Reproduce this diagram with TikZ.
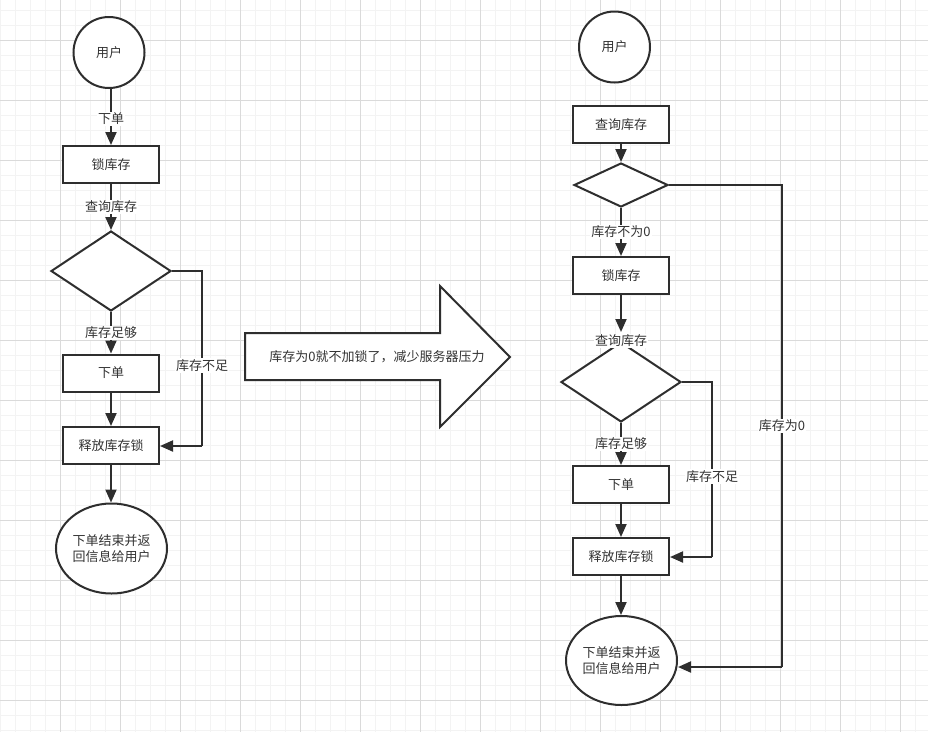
\documentclass[tikz,border=0pt]{standalone}
\usepackage{fontspec}
\setmainfont{Noto Sans CJK SC}
\usetikzlibrary{arrows.meta,shapes.geometric}
\definecolor{ink}{HTML}{2E2E2E}
\definecolor{txt}{HTML}{333333}
\definecolor{gminor}{HTML}{F3F3F3}
\definecolor{gmajor}{HTML}{DADADA}
\tikzset{
  base/.style={draw=ink, line width=2pt, fill=white, text=txt, font=\fontsize{13}{15.5}\selectfont, inner sep=0pt},
  stepbox/.style={base, rectangle, minimum width=96pt, minimum height=37pt},
  startnode/.style={base, circle, minimum size=71pt},
  endnode/.style={base, ellipse, minimum width=111pt, minimum height=90pt, align=center},
  decision/.style={base, diamond, minimum width=120pt, minimum height=80pt},
  conn/.style={draw=ink, line width=2pt, -{Triangle[length=13pt,width=11pt]}},
  plain/.style={draw=ink, line width=2pt},
  elabel/.style={fill=white, text=txt, font=\fontsize{13}{15.5}\selectfont, inner sep=1pt}
}
\begin{document}
\begin{tikzpicture}[x=1pt,y=-1pt]
\useasboundingbox (0,0) rectangle (928,732);
\fill[white] (0,0) rectangle (928,732);
% grid
\foreach \x in {0,15,...,928} {\draw[gminor, line width=0.8pt] (\x,0) -- (\x,732);}
\foreach \y in {10,25,...,732} {\draw[gminor, line width=0.8pt] (0,\y) -- (928,\y);}
\foreach \x in {60,120,...,900} {\draw[gmajor, line width=0.8pt] (\x,0) -- (\x,732);}
\foreach \y in {40,100,...,732} {\draw[gmajor, line width=0.8pt] (0,\y) -- (928,\y);}

% ---------- left flow ----------
\node[startnode] (u1) at (109,52.5) {用户};
\node[stepbox] (lock1) at (111,164.5) {锁库存};
\node[decision] (d1) at (111,271) {};
\node[stepbox] (order1) at (111,373) {下单};
\node[stepbox] (rel1) at (111,445.5) {释放库存锁};
\node[endnode] (end1) at (111.5,548.5) {下单结束并返\\回信息给用户};
\coordinate (c1a) at (202,271);
\coordinate (c1b) at (202,446);

\draw[conn] (u1.south -| lock1) -- node[elabel, pos=0.53] {下单} (lock1.north);
\draw[conn] (lock1.south) -- node[elabel] {查询库存} (d1.north);
\draw[conn] (d1.south) -- node[elabel] {库存足够} (order1.north);
\draw[conn] (order1.south) -- (rel1.north);
\draw[conn] (rel1.south) -- (rel1.south |- end1.north);
\draw[plain] (d1.east) -- (c1a) -- node[elabel, pos=0.54] {库存不足} (c1b);
\draw[conn] (c1b) -- (rel1.east |- c1b);

% ---------- big arrow ----------
\draw[base] (245,333) -- (440,333) -- (440,286) -- (510,357) -- (440,427) -- (440,380) -- (245,380) -- cycle;
\node[elabel, fill=none] (note) at (377,357) {库存为0就不加锁了，减少服务器压力};

% ---------- right flow ----------
\node[startnode] (u2) at (614.5,47) {用户};
\node[stepbox] (q2) at (621,124.5) {查询库存};
\node[decision, minimum width=94pt, minimum height=44pt] (d0) at (621,185) {};
\node[stepbox] (lock2) at (621,275.5) {锁库存};
\node[decision] (d2) at (621,382) {};
\node[stepbox] (order2) at (621,484.5) {下单};
\node[stepbox] (rel2) at (621,556.5) {释放库存锁};
\node[endnode, minimum height=89pt] (end2) at (621.5,660.5) {下单结束并返\\回信息给用户};
\coordinate (c0a) at (782,185);
\coordinate (c0b) at (782,667);
\coordinate (c2a) at (712,382);
\coordinate (c2b) at (712,557);

\draw[conn] (q2.south) -- (d0.north);
\draw[conn] (d0.south) -- node[elabel] {库存不为0} (lock2.north);
\draw[conn, shorten >=9pt] (lock2.south) -- (d2.north);
\node[elabel] (ql2) at (621,341) {查询库存};
\draw[conn] (d2.south) -- node[elabel] {库存足够} (order2.north);
\draw[conn] (order2.south) -- (rel2.north);
\draw[conn] (rel2.south) -- (rel2.south |- end2.north);
\draw[plain] (d2.east) -- (c2a) -- node[elabel, pos=0.54] {库存不足} (c2b);
\draw[conn] (c2b) -- (rel2.east |- c2b);
\draw[plain] (d0.east) -- (c0a) -- node[elabel, pos=0.5] {库存为0} (c0b);
\draw[conn] (c0b) -- (end2.east |- c0b);
\end{tikzpicture}
\end{document}
